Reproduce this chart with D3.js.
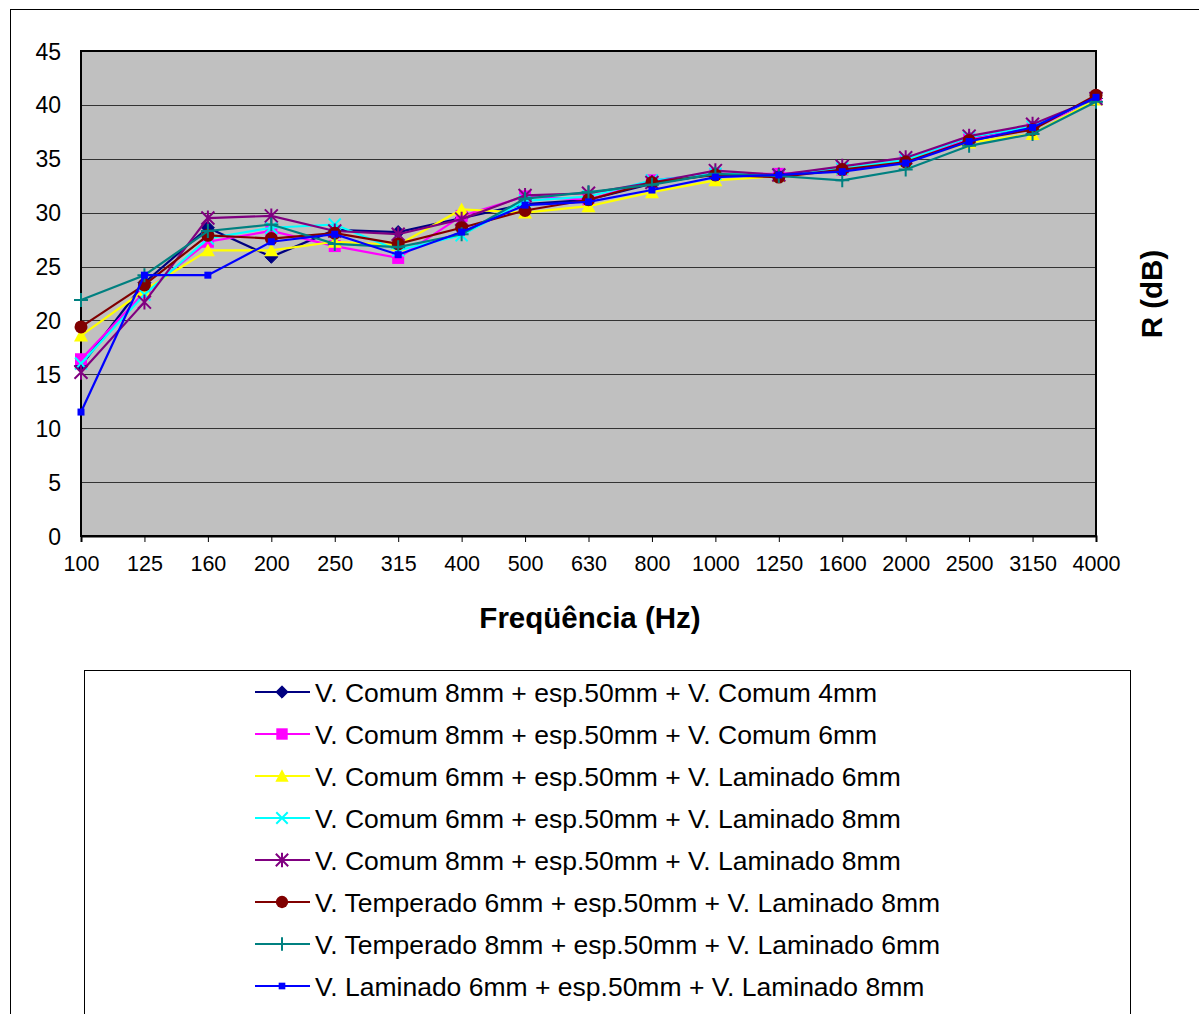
<!DOCTYPE html>
<html><head><meta charset="utf-8">
<script src="https://cdn.jsdelivr.net/npm/d3@7"></script>
<style>body{margin:0;background:#fff;}svg{display:block;font-family:"Liberation Sans",Arial,sans-serif;}</style>
</head><body>
<svg id="c" width="1199" height="1014"></svg>
<script>
const categories = ["100","125","160","200","250","315","400","500","630","800","1000","1250","1600","2000","2500","3150","4000"];
const yTicks = [0,5,10,15,20,25,30,35,40,45];
const seriesNames = [
  "V. Comum 8mm + esp.50mm + V. Comum 4mm",
  "V. Comum 8mm + esp.50mm + V. Comum 6mm",
  "V. Comum 6mm + esp.50mm + V. Laminado 6mm",
  "V. Comum 6mm + esp.50mm + V. Laminado 8mm",
  "V. Comum 8mm + esp.50mm + V. Laminado 8mm",
  "V. Temperado 6mm + esp.50mm + V. Laminado 8mm",
  "V. Temperado 8mm + esp.50mm + V. Laminado 6mm",
  "V. Laminado 6mm + esp.50mm + V. Laminado 8mm"
];
const s1 = [15.8,23.5,28.6,25.9,28.4,28.2,29.5,30.8,31.2,32.7,33.6,33.5,34.0,34.8,36.9,37.9,40.6];
const s2 = [16.4,22.6,27.3,28.3,26.9,25.8,29.7,31.5,31.2,33.0,33.6,33.6,34.0,34.8,36.8,37.8,40.6];
const s3 = [18.6,22.8,26.5,26.5,27.3,27.0,30.3,30.0,30.6,31.9,33.0,33.4,34.1,34.8,36.5,37.3,40.5];
const s4 = [16.0,22.4,27.6,28.6,28.9,26.5,27.9,31.1,31.5,33.0,33.6,33.5,34.1,34.9,37.0,38.0,40.6];
const s5 = [15.2,21.7,29.5,29.7,28.3,28.0,29.4,31.6,31.8,32.8,33.9,33.5,34.3,35.1,37.1,38.2,40.6];
const s6 = [19.4,23.3,27.9,27.6,28.1,27.1,28.6,30.2,31.2,32.8,33.5,33.3,34.0,34.7,36.7,37.7,40.9];
const s7 = [21.9,24.2,28.3,28.9,27.1,26.8,28.0,31.3,31.9,32.6,33.6,33.4,33.0,34.0,36.2,37.3,40.3];
const s8 = [11.5,24.2,24.2,27.3,28.0,26.1,28.2,30.7,31.0,32.1,33.3,33.5,33.8,34.6,36.6,37.9,40.7];
const seriesValues = [s1,s2,s3,s4,s5,s6,s7,s8];
const colors = ["#000080","#FF00FF","#FFFF00","#00FFFF","#800080","#800000","#008080","#0000FF"];
const markers = ["diamond","square","triangle","x","asterisk","circle","plus","smallsquare"];

const svg = d3.select("#c");
const L = 81, R = 1096, T = 51, B = 536;

// outer frame
svg.append("rect").attr("x",10.5).attr("y",9.5).attr("width",1200).attr("height",1100)
  .attr("fill","#fff").attr("stroke","#000").attr("stroke-width",1);

const x = d3.scalePoint().domain(categories).range([L,R]);
const y = d3.scaleLinear().domain([0,45]).range([B,T]);

svg.append("rect").attr("x",L).attr("y",T).attr("width",R-L).attr("height",B-T).attr("fill","#C0C0C0");

// gridlines
svg.append("g").selectAll("line").data(yTicks.filter(d=>d>0&&d<45)).join("line")
  .attr("x1",L).attr("x2",R).attr("y1",d=>Math.round(y(d))+0.5).attr("y2",d=>Math.round(y(d))+0.5)
  .attr("stroke","#333").attr("stroke-width",1.2);

svg.append("rect").attr("x",L).attr("y",T).attr("width",R-L).attr("height",B-T)
  .attr("fill","none").attr("stroke","#000").attr("stroke-width",2);

// axes
const yAxis = svg.append("g").attr("transform",`translate(${L},0)`)
  .call(d3.axisLeft(y).tickValues(yTicks).tickSize(0).tickPadding(20));
yAxis.select(".domain").remove();
yAxis.selectAll("text").attr("font-size",23).attr("fill","#000").attr("font-family","Liberation Sans, Arial, sans-serif").attr("dy","0.35em");

const xAxis = svg.append("g").attr("transform",`translate(0,${B})`)
  .call(d3.axisBottom(x).tickSize(6).tickPadding(14));
xAxis.select(".domain").attr("stroke","#000").attr("stroke-width",2);
xAxis.selectAll("line").attr("stroke","#000");
xAxis.selectAll("text").attr("font-size",21.5).attr("fill","#000").attr("font-family","Liberation Sans, Arial, sans-serif");

// titles
svg.append("text").attr("x",590).attr("y",628).attr("text-anchor","middle")
  .attr("font-size",29.5).attr("font-weight","bold").text("Freqüência (Hz)");
svg.append("text").attr("transform","translate(1162,294) rotate(-90)").attr("text-anchor","middle")
  .attr("font-size",29.5).attr("font-weight","bold").text("R (dB)");

function drawMarker(g, type, color, cx, cy, scale){
  const s = scale||1;
  if(type==="diamond"){
    const r=6.5*s;
    g.append("path").attr("d",`M${cx},${cy-r}L${cx+r},${cy}L${cx},${cy+r}L${cx-r},${cy}Z`).attr("fill",color).attr("stroke",color);
  } else if(type==="square"){
    const r=6*s;
    g.append("rect").attr("x",cx-r).attr("y",cy-r).attr("width",2*r).attr("height",2*r).attr("fill",color);
  } else if(type==="smallsquare"){
    const r=3.5*s;
    g.append("rect").attr("x",cx-r).attr("y",cy-r).attr("width",2*r).attr("height",2*r).attr("fill",color);
  } else if(type==="triangle"){
    const r=7*s;
    g.append("path").attr("d",`M${cx},${cy-r}L${cx+r},${cy+r*0.85}L${cx-r},${cy+r*0.85}Z`).attr("fill",color);
  } else if(type==="circle"){
    g.append("circle").attr("cx",cx).attr("cy",cy).attr("r",6.5*s).attr("fill",color);
  } else if(type==="x"){
    const r=6*s;
    g.append("path").attr("d",`M${cx-r},${cy-r}L${cx+r},${cy+r}M${cx-r},${cy+r}L${cx+r},${cy-r}`).attr("stroke",color).attr("stroke-width",2);
  } else if(type==="asterisk"){
    const r=6.5*s;
    g.append("path").attr("d",`M${cx-r},${cy-r}L${cx+r},${cy+r}M${cx-r},${cy+r}L${cx+r},${cy-r}M${cx},${cy-r-1}L${cx},${cy+r+1}`).attr("stroke",color).attr("stroke-width",2);
  } else if(type==="plus"){
    const r=7*s;
    g.append("path").attr("d",`M${cx-r},${cy}L${cx+r},${cy}M${cx},${cy-r}L${cx},${cy+r}`).attr("stroke",color).attr("stroke-width",2);
  }
}

const line = d3.line().x((d,i)=>x(categories[i])).y(d=>y(d));
seriesValues.forEach((vals,k)=>{
  const g = svg.append("g");
  g.append("path").datum(vals).attr("d",line).attr("fill","none").attr("stroke",colors[k]).attr("stroke-width",2.2);
  vals.forEach((v,i)=>drawMarker(g, markers[k], colors[k], x(categories[i]), y(v)));
});

// legend
svg.append("rect").attr("x",84.5).attr("y",670.5).attr("width",1046).attr("height",400)
  .attr("fill","#fff").attr("stroke","#000").attr("stroke-width",1);
const lg = svg.append("g");
seriesNames.forEach((name,k)=>{
  const cy = 692 + k*42;
  lg.append("line").attr("x1",255).attr("x2",310).attr("y1",cy).attr("y2",cy).attr("stroke",colors[k]).attr("stroke-width",2.2);
  drawMarker(lg, markers[k], colors[k], 282, cy, 0.95);
  lg.append("text").attr("x",315).attr("y",cy).attr("dy","0.36em").attr("font-size",26.5).attr("fill","#000").text(name);
});
</script>
</body></html>
